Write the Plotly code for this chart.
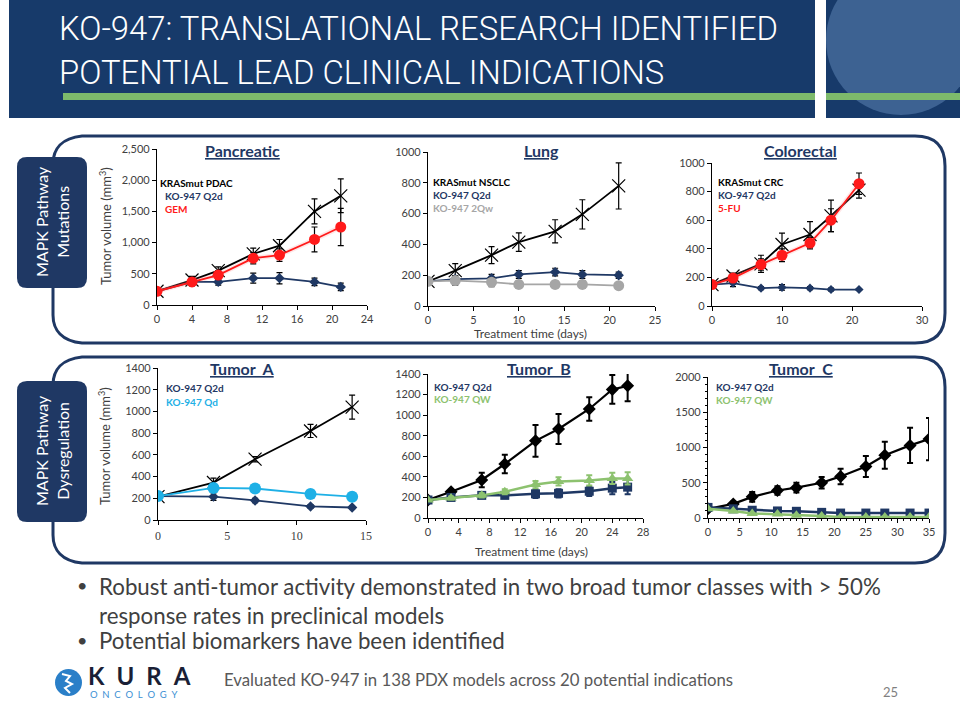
import plotly.graph_objects as go

# ---------------- DATA ----------------
panc_days = [0, 4, 7, 11, 14, 18, 21]
panc_ctrl = [220, 400, 550, 820, 950, 1500, 1750]
panc_ctrl_err = [0, 60, 60, 90, 100, 200, 270]
panc_gem = [220, 370, 480, 750, 800, 1050, 1250]
panc_gem_err = [0, 60, 70, 90, 100, 200, 300]
panc_q2d = [220, 370, 370, 430, 430, 370, 290]
panc_q2d_err = [0, 60, 50, 80, 90, 60, 60]

lung_days = [0, 3, 7, 10, 14, 17, 21]
lung_ctrl = [160, 230, 330, 415, 485, 595, 780]
lung_ctrl_err = [0, 45, 55, 60, 75, 95, 150]
lung_q2d = [160, 175, 180, 205, 220, 205, 200]
lung_q2d_err = [0, 20, 25, 25, 25, 25, 20]
lung_2qw = [160, 165, 155, 140, 140, 140, 132]
lung_2qw_err = [0, 30, 30, 25, 25, 25, 20]

crc_days = [0, 3, 7, 10, 14, 17, 21]
crc_ctrl = [150, 210, 295, 430, 500, 630, 810]
crc_ctrl_err = [0, 20, 60, 80, 90, 110, 55]
crc_5fu = [150, 195, 290, 355, 440, 600, 855]
crc_5fu_err = [0, 20, 40, 45, 40, 80, 75]
crc_q2d = [150, 160, 125, 130, 125, 115, 115]
crc_q2d_err = [0, 25, 10, 20, 10, 10, 5]

ta_days = [0, 4, 7, 11, 14]
ta_ctrl = [215, 345, 560, 820, 1040]
ta_ctrl_err = [0, 40, 25, 60, 110]
ta_qd = [220, 295, 290, 240, 215]
ta_qd_err = [0, 15, 20, 15, 10]
ta_q2d = [220, 215, 180, 125, 115]
ta_q2d_err = [0, 35, 20, 15, 10]

tb_days = [0, 3, 7, 10, 14, 17, 21, 24, 26]
tb_ctrl = [175, 255, 370, 525, 750, 865, 1060, 1250, 1285]
tb_ctrl_err = [0, 20, 70, 90, 155, 145, 115, 140, 150]
tb_qw = [175, 195, 220, 255, 325, 355, 365, 385, 385]
tb_qw_err = [0, 15, 20, 25, 35, 40, 50, 55, 60]
tb_q2d = [175, 200, 220, 220, 235, 240, 260, 290, 300]
tb_q2d_err = [0, 15, 20, 20, 40, 40, 45, 60, 70]

tc_days = [0, 4, 7, 11, 14, 18, 21, 25, 28, 32, 35]
tc_ctrl = [130, 200, 300, 390, 430, 500, 590, 730, 890, 1030, 1120]
tc_ctrl_err = [0, 30, 70, 60, 70, 80, 110, 150, 190, 250, 300]
tc_q2d = [150, 130, 110, 100, 95, 80, 70, 70, 70, 70, 70]
tc_qw = [130, 100, 65, 55, 40, 30, 15, 15, 15, 15, 15]

title_lines = ["KO-947: TRANSLATIONAL RESEARCH IDENTIFIED", "POTENTIAL LEAD CLINICAL INDICATIONS"]
panel_titles = ["Pancreatic", "Lung", "Colorectal", "Tumor  A", "Tumor  B", "Tumor  C"]
bullets = ["Robust anti-tumor activity demonstrated in two broad tumor classes with > 50%<br>response rates in preclinical models",
           "Potential biomarkers have been identified"]
footnote = "Evaluated KO-947 in 138 PDX models across 20 potential indications"

# ---------------- STYLE ----------------
W, H = 960, 720
NAVY = "#1f3864"
HEAD = "#173a6a"
RED = "#ff1a1a"
GRAY = "#a6a6a6"
LBLUE = "#1eb0e6"
GREEN = "#8dc26f"
TXT = "#404040"
FONT = "Lato, 'Open Sans', sans-serif"


def fx(px):
    return px / W


def fy(py):
    return 1 - py / H


def path(pts):
    s = ""
    for cmd, coords in pts:
        s += cmd + " " + " ".join(f"{fx(x):.5f},{fy(y):.5f}" for x, y in coords) + " "
    return s + "Z"


fig = go.Figure()

# axis domains in pixels: (x0, x1, ytop, ybottom)
doms = [(157, 367, 149, 305), (428, 655, 152, 306), (712, 922, 163, 306),
        (158, 366, 368, 520), (428, 643, 374, 518), (708, 929, 377, 518)]
xranges = [(0, 24, 4), (0, 25, 5), (0, 30, 10), (0, 15, 5), (0, 28, 4), (0, 35, 5)]
yranges = [(0, 2500, 500), (0, 1000, 200), (0, 1000, 200), (0, 1400, 200), (0, 1400, 200), (0, 2000, 500)]

layout_axes = {}
for i, (d, xr, yr) in enumerate(zip(doms, xranges, yranges), start=1):
    xa = "xaxis" if i == 1 else f"xaxis{i}"
    ya = "yaxis" if i == 1 else f"yaxis{i}"
    xfont = dict(family=FONT, size=11, color=TXT)
    if i == 4:
        xfont = dict(family="'Liberation Serif', serif", size=12, color=TXT)
    xa_d = dict(domain=[fx(d[0]), fx(d[1])], range=[xr[0], xr[1]], dtick=xr[2], tick0=0,
                anchor=f"y{i}" if i > 1 else "y", showline=True, linecolor="#000", linewidth=1.2,
                ticks="outside", ticklen=4, tickcolor="#000", showgrid=False, zeroline=False,
                tickfont=xfont, fixedrange=True, automargin=False)
    if i in (5, 6):
        xa_d["minor"] = dict(dtick=1, ticks="outside", ticklen=2, tickcolor="#000")
    ya_d = dict(domain=[fy(d[3]), fy(d[2])], range=[yr[0], yr[1]], dtick=yr[2], tick0=0,
                anchor=f"x{i}" if i > 1 else "x", showline=True, linecolor="#000", linewidth=1.2,
                ticks="outside", ticklen=4, tickcolor="#000", showgrid=False, zeroline=False,
                tickfont=dict(family=FONT, size=11, color=TXT), fixedrange=True, automargin=False)
    if i == 1:
        ya_d["tickformat"] = ",d"
    if i == 6:
        ya_d["minor"] = dict(dtick=100, ticks="outside", ticklen=2, tickcolor="#000")
    layout_axes[xa] = xa_d
    layout_axes[ya] = ya_d


def add(i, x, y, err=None, color="#000", symbol="circle", size=8, lw=2, ecolor="#000",
        ethick=1.2, ewidth=3, mline=None, glow=None):
    xr = "x" if i == 1 else f"x{i}"
    yr = "y" if i == 1 else f"y{i}"
    if glow:
        fig.add_trace(go.Scatter(x=x, y=y, mode="lines", xaxis=xr, yaxis=yr,
                                 line=dict(color=glow, width=lw + 3), hoverinfo="skip"))
    marker = dict(color=color, symbol=symbol, size=size)
    if mline:
        marker["line"] = dict(color=mline, width=1.2)
    fig.add_trace(go.Scatter(
        x=x, y=y, mode="lines+markers", xaxis=xr, yaxis=yr,
        line=dict(color=color, width=lw), marker=marker,
        error_y=dict(type="data", array=err, color=ecolor, thickness=ethick, width=ewidth,
                     visible=err is not None)))


# Pancreatic
add(1, panc_days, panc_ctrl, panc_ctrl_err, "#000", "x-thin-open", 13, 1.8, mline="#000")
add(1, panc_days, panc_q2d, panc_q2d_err, NAVY, "diamond", 8, 1.8)
add(1, panc_days, panc_gem, panc_gem_err, RED, "circle", 11, 1.8, glow="rgba(255,120,120,0.18)")
# Lung
add(2, lung_days, lung_ctrl, lung_ctrl_err, "#000", "x-thin-open", 13, 1.8, mline="#000")
add(2, lung_days, lung_q2d, lung_q2d_err, NAVY, "diamond", 8, 1.8)
add(2, lung_days, lung_2qw, lung_2qw_err, GRAY, "circle", 11, 1.8)
# Colorectal
add(3, crc_days, crc_ctrl, crc_ctrl_err, "#000", "x-thin-open", 13, 1.8, mline="#000")
add(3, crc_days, crc_q2d, crc_q2d_err, NAVY, "diamond", 7, 1.8)
add(3, crc_days, crc_5fu, crc_5fu_err, RED, "circle", 11, 1.8, glow="rgba(255,120,120,0.18)")
# Tumor A
add(4, ta_days, ta_ctrl, ta_ctrl_err, "#000", "x-thin-open", 13, 1.8, mline="#000")
add(4, ta_days, ta_q2d, ta_q2d_err, NAVY, "diamond", 8, 1.8)
add(4, ta_days, ta_qd, ta_qd_err, LBLUE, "circle", 12, 1.8)
# Tumor B
add(5, tb_days, tb_ctrl, tb_ctrl_err, "#000", "diamond", 10, 2.2, ethick=2, ewidth=3)
add(5, tb_days, tb_q2d, tb_q2d_err, NAVY, "square", 9, 2.5, ecolor=NAVY, ethick=2, ewidth=3)
add(5, tb_days, tb_qw, tb_qw_err, GREEN, "triangle-up", 10, 2.5, ecolor=GREEN, ethick=2, ewidth=3)
# Tumor C
add(6, tc_days, tc_ctrl, tc_ctrl_err, "#000", "diamond", 10, 2.2, ethick=2, ewidth=3)
add(6, tc_days, tc_q2d, None, NAVY, "square", 9, 2.5)
add(6, tc_days, tc_qw, None, GREEN, "triangle-up", 10, 2.5)

# ---------------- SHAPES ----------------
shapes = []
# header
shapes.append(dict(type="rect", xref="paper", yref="paper", x0=fx(9), x1=fx(815), y0=fy(118), y1=fy(0),
                   fillcolor=HEAD, line=dict(width=0), layer="below"))
shapes.append(dict(type="rect", xref="paper", yref="paper", x0=fx(826), x1=fx(960), y0=fy(118), y1=fy(0),
                   fillcolor=HEAD, line=dict(width=0), layer="below"))
shapes.append(dict(type="circle", xref="paper", yref="paper", x0=fx(826), x1=fx(976), y0=fy(115), y1=fy(-35),
                   fillcolor="#3d6292", line=dict(width=0), layer="below"))
land = [("M", [(840, 12)]), ("L", [(868, 10), (878, 17), (897, 22), (904, 33), (896, 42), (901, 52),
                                   (890, 62), (881, 68), (886, 78), (872, 84), (860, 76), (853, 67),
                                   (840, 63), (846, 55), (857, 50), (848, 42), (842, 33), (833, 22)])]
shapes.append(dict(type="path", xref="paper", yref="paper", path=path(land), fillcolor=HEAD,
                   line=dict(width=0), layer="below"))
shapes.append(dict(type="rect", xref="paper", yref="paper", x0=fx(815), x1=fx(960), y0=fy(135), y1=fy(118),
                   fillcolor="white", line=dict(width=0), layer="below"))
shapes.append(dict(type="rect", xref="paper", yref="paper", x0=fx(815), x1=fx(826), y0=fy(118), y1=fy(0),
                   fillcolor="white", line=dict(width=0), layer="below"))
for a, b in [(63, 815), (826, 960)]:
    shapes.append(dict(type="rect", xref="paper", yref="paper", x0=fx(a), x1=fx(b), y0=fy(100), y1=fy(93),
                       fillcolor="#7dba6b", line=dict(width=0), layer="below"))

# bracket panels
for top, bot in [(136, 343), (357, 563)]:
    p = [("M", [(82, top)]), ("L", [(915, top)]), ("Q", [(945, top), (945, top + 30)]),
         ("L", [(945, bot - 30)]), ("Q", [(945, bot), (915, bot)]), ("L", [(82, bot)]),
         ("C", [(62, bot - 2), (53, bot - 13), (53, bot - 28)]), ("L", [(53, top + 28)]),
         ("C", [(53, top + 13), (62, top + 2), (82, top)])]
    shapes.append(dict(type="path", xref="paper", yref="paper", path=path(p),
                       line=dict(color=NAVY, width=3), fillcolor="rgba(0,0,0,0)", layer="below"))


def rrect(x0, y0, x1, y1, r):
    return [("M", [(x0 + r, y0)]), ("L", [(x1 - r, y0)]), ("Q", [(x1, y0), (x1, y0 + r)]),
            ("L", [(x1, y1 - r)]), ("Q", [(x1, y1), (x1 - r, y1)]), ("L", [(x0 + r, y1)]),
            ("Q", [(x0, y1), (x0, y1 - r)]), ("L", [(x0, y0 + r)]), ("Q", [(x0, y0), (x0 + r, y0)])]


for y0, y1 in [(157, 288), (381, 522)]:
    shapes.append(dict(type="path", xref="paper", yref="paper", path=path(rrect(17, y0, 87, y1, 10)),
                       fillcolor=NAVY, line=dict(width=0), layer="below"))

# logo globe
shapes.append(dict(type="circle", xref="paper", yref="paper", x0=fx(55), x1=fx(82), y0=fy(696), y1=fy(669),
                   fillcolor="#2a7fc8", line=dict(width=0), layer="below"))
shapes.append(dict(type="path", xref="paper", yref="paper",
                   path="M " + " L ".join(f"{fx(x):.5f},{fy(y):.5f}" for x, y in
                                          [(62, 674), (70, 676), (66, 681), (72, 684), (65, 688), (70, 693)]),
                   line=dict(color="white", width=2), layer="below"))

# ---------------- ANNOTATIONS ----------------
ann = []


def text(x, y, s, size, color, xanchor="left", family=FONT, angle=0, yanchor="middle", weight=None):
    f = dict(family=family, size=size, color=color)
    if weight:
        f["weight"] = weight
    ann.append(dict(x=fx(x), y=fy(y), xref="paper", yref="paper", text=s, showarrow=False,
                    xanchor=xanchor, yanchor=yanchor, textangle=angle, align="center", font=f,
                    borderpad=0))


text(58, 29, title_lines[0], 32.8, "white", family="Roboto, sans-serif", weight=300)
text(58, 73, title_lines[1], 32.8, "white", family="Roboto, sans-serif", weight=300)

title_pos = [(242, 150), (541, 150), (800, 150), (242, 369), (539, 369), (801, 369)]
for (x, y), t in zip(title_pos, panel_titles):
    text(x, y, f"<b><u>{t}</u></b>", 16, NAVY, xanchor="center")

# in-chart legends
leg = [
    (159, 183, "KRASmut PDAC", "#000"), (164, 196, "KO-947 Q2d", NAVY), (164, 209, "GEM", RED),
    (432, 182, "KRASmut NSCLC", "#000"), (432, 195, "KO-947 Q2d", NAVY), (432, 208, "KO-947 2Qw", GRAY),
    (717, 182, "KRASmut CRC", "#000"), (717, 195, "KO-947 Q2d", NAVY), (717, 208, "5-FU", RED),
    (165, 388, "KO-947 Q2d", NAVY), (165, 402, "KO-947 Qd", LBLUE),
    (433, 387, "KO-947 Q2d", NAVY), (433, 399, "KO-947 QW", GREEN),
    (715, 387, "KO-947 Q2d", NAVY), (715, 400, "KO-947 QW", GREEN),
]
for x, y, s, c in leg:
    text(x, y, f"<b>{s}</b>", 10, c)

# axis titles
text(105, 226, "Tumor volume (mm<sup>3</sup>)", 13, TXT, xanchor="center", angle=-90)
text(104, 446, "Tumor volume (mm<sup>3</sup>)", 13, TXT, xanchor="center", angle=-90)
text(530, 333, "Treatment time (days)", 12, TXT, xanchor="center")
text(531, 551, "Treatment time (days)", 12, TXT, xanchor="center")

# side labels
text(52, 222, "MAPK Pathway<br>Mutations", 16, "white", xanchor="center", angle=-90)
text(52, 451, "MAPK Pathway<br>Dysregulation", 16, "white", xanchor="center", angle=-90)

# bullets
text(76, 585, "•", 18, TXT)
text(76, 640, "•", 18, TXT)
ann.append(dict(x=fx(98), y=fy(572), xref="paper", yref="paper", text=bullets[0], showarrow=False,
                xanchor="left", yanchor="top", align="left", borderpad=0,
                font=dict(family=FONT, size=22.3, color=TXT)))
text(98, 640, bullets[1], 22.3, TXT)

text(223, 679, footnote, 16.8, "#595959")
text(890, 692, "25", 13, "#7f7f7f", xanchor="center")

# logo text
text(87, 675, "<b>K\u2002U\u2002R\u2002A</b>", 24, "#1a1f36")
text(89, 694, "O\u2002N\u2002C\u2002O\u2002L\u2002O\u2002G\u2002Y", 9.5, "#3b8fd4")

fig.update_layout(width=W, height=H,
                  margin=dict(l=0, r=0, t=0, b=0, pad=0, autoexpand=False),
                  paper_bgcolor="white",
                  plot_bgcolor="rgba(0,0,0,0)", showlegend=False, shapes=shapes, annotations=ann,
                  **layout_axes)

fig.write_html("out.html", config={"displayModeBar": False},
               post_script="document.body.style.margin='0px';")
